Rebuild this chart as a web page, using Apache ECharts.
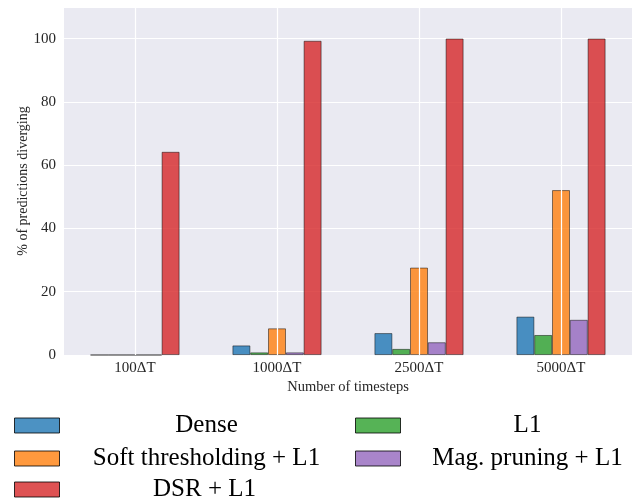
<!DOCTYPE html>
<html><head><meta charset="utf-8">
<script src="https://cdn.jsdelivr.net/npm/echarts@6/dist/echarts.min.js"></script>
<style>html,body{margin:0;padding:0;background:#fff}#c{width:639px;height:503px}</style>
</head><body><div id="c"></div>
<script>
const categories = ['100ΔT','1000ΔT','2500ΔT','5000ΔT'];
const seriesNames = ['Dense','L1','Soft thresholding + L1','Mag. pruning + L1','DSR + L1'];
const dense = [0, 3.0, 6.9, 12.1];
const l1 = [0, 0.8, 1.9, 6.3];
const soft = [0, 8.4, 27.6, 52.1];
const mag = [0, 0.8, 4.0, 11.1];
const dsr = [64.2, 99.3, 100, 100];
const yTicks = [0, 20, 40, 60, 80, 100];
const colors = ['#1f77b4','#2ca02c','#ff7f0e','#9467bd','#d62728'];
const values = [dense, l1, soft, mag, dsr];

const FONT = 'Liberation Serif';
const chart = echarts.init(document.getElementById('c'));
const bars = seriesNames.map((n, i) => ({
  name: n, type: 'bar', data: values[i], barWidth: 17.8, barGap: '0%', z: 3,
  itemStyle: { color: colors[i], opacity: 0.8, borderColor: 'rgba(0,0,0,0.75)', borderWidth: 0.8 },
  emphasis: { disabled: true }
}));
bars.push({
  type: 'line', data: [], z: 1, silent: true,
  markLine: { symbol: 'none', silent: true, label: { show: false },
    lineStyle: { color: '#ffffff', width: 1.2, type: 'solid' },
    data: categories.map(c => ({ xAxis: c })) }
});

const legendPos = [
  { left: 14, top: 413, w: 284 },
  { left: 355, top: 413, w: 244 },
  { left: 14, top: 446, w: 284 },
  { left: 355, top: 446, w: 244 },
  { left: 14, top: 477, w: 280 }
];
const legends = [0, 1, 2, 3, 4].map((si, k) => ({
  data: [seriesNames[si]], left: legendPos[k].left, top: legendPos[k].top,
  padding: 0, itemWidth: 45, itemHeight: 15, icon: 'rect', selectedMode: false,
  itemStyle: { borderColor: '#000', borderWidth: 1 },
  formatter: '{a|{name}}',
  textStyle: { rich: { a: { width: legendPos[k].w, align: 'center', fontSize: 25, fontFamily: FONT, color: '#000' } } }
}));

chart.setOption({
  animation: false,
  color: colors,
  textStyle: { fontFamily: FONT },
  grid: { left: 64, right: 7, top: 7, bottom: 148, show: true, backgroundColor: '#EAEAF2', borderWidth: 0 },
  legend: legends,
  xAxis: {
    type: 'category', data: categories,
    axisLine: { show: false }, axisTick: { show: false }, splitLine: { show: false },
    axisLabel: { fontFamily: FONT, fontSize: 15, color: '#262626', margin: 6 },
    name: 'Number of timesteps', nameLocation: 'middle', nameGap: 25, nameMoveOverlap: false,
    nameTextStyle: { fontFamily: FONT, fontSize: 14.5, color: '#262626' }
  },
  yAxis: {
    type: 'value', min: 0, max: 110, interval: 20,
    axisLine: { show: false }, axisTick: { show: false },
    splitLine: { lineStyle: { color: '#ffffff', width: 1.2 } },
    axisLabel: { fontFamily: FONT, fontSize: 15, color: '#262626', margin: 8, showMaxLabel: false,
      formatter: v => yTicks.includes(v) ? String(v) : '' },
    name: '% of predictions diverging', nameLocation: 'middle', nameGap: 34, nameMoveOverlap: false,
    nameTextStyle: { fontFamily: FONT, fontSize: 14, color: '#262626' }
  },
  series: bars
});
</script></body></html>
